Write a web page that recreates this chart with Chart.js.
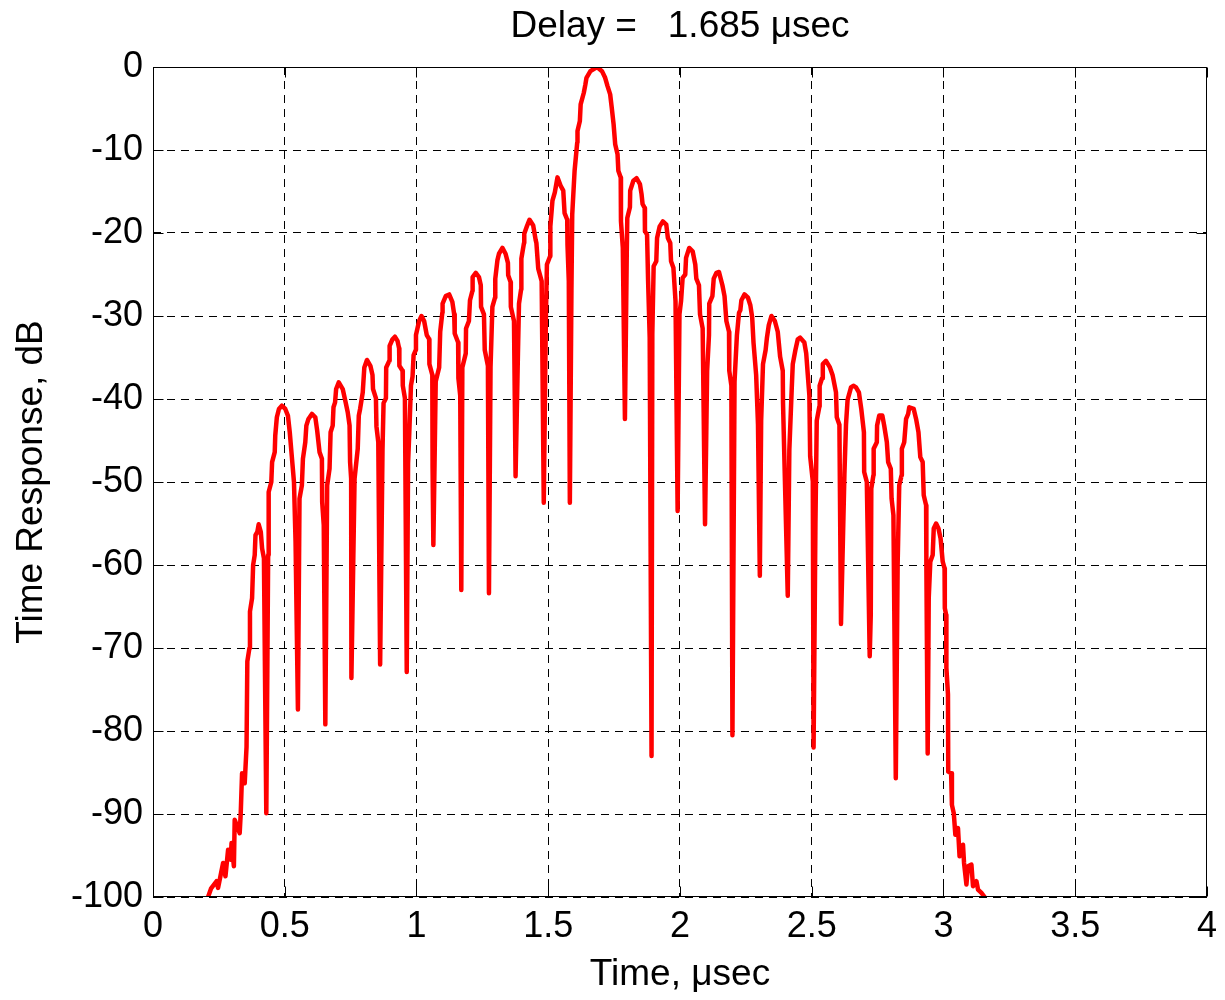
<!DOCTYPE html>
<html>
<head>
<meta charset="utf-8">
<title>Time Response</title>
<script src="https://cdn.jsdelivr.net/npm/chart.js@4.4.1/dist/chart.umd.min.js"></script>
<style>
  html, body { margin: 0; padding: 0; background: #fff; }
  #wrap { width: 1225px; height: 1000px; }
</style>
</head>
<body>
<div id="wrap"><canvas id="chart" width="1225" height="1000"></canvas></div>
<script>
// Time samples (usec), one line per lobe
const timeUs = [
  0.209, 0.220, 0.241, 0.247, 0.266, 0.275, 0.285, 0.295, 0.298, 0.307, 0.310, 0.329, 0.333, 0.338, 0.348, 0.355, 0.358, 0.366, 0.368, 0.376, 0.380, 0.386, 0.389, 0.396, 0.401, 0.409, 0.414, 0.421, 0.430,
  0.437, 0.439, 0.449, 0.452, 0.462, 0.464, 0.470, 0.478, 0.489, 0.502, 0.512, 0.519, 0.527, 0.535, 0.541, 0.550,
  0.556, 0.565, 0.569, 0.578, 0.582, 0.590, 0.603, 0.616, 0.623, 0.632, 0.641, 0.642, 0.648, 0.654,
  0.661, 0.670, 0.674, 0.682, 0.685, 0.691, 0.695, 0.705, 0.720, 0.731, 0.739, 0.746, 0.748, 0.752, 0.753,
  0.765, 0.777, 0.781, 0.786, 0.796, 0.802, 0.812, 0.825, 0.833, 0.835, 0.846, 0.848, 0.855, 0.862,
  0.871, 0.875, 0.884, 0.885, 0.897, 0.898, 0.909, 0.918, 0.928, 0.934, 0.935, 0.947, 0.948, 0.956, 0.963,
  0.968, 0.972, 0.979, 0.985, 0.989, 0.997, 0.998, 1.010, 1.019, 1.029, 1.039, 1.048, 1.049, 1.060, 1.061, 1.064,
  1.073, 1.086, 1.090, 1.098, 1.099, 1.111, 1.124, 1.136, 1.143, 1.145, 1.158, 1.159, 1.166, 1.170,
  1.174, 1.187, 1.188, 1.199, 1.203, 1.212, 1.213, 1.225, 1.237, 1.244, 1.245, 1.256, 1.259, 1.271, 1.275,
  1.281, 1.288, 1.298, 1.299, 1.307, 1.313, 1.326, 1.338, 1.347, 1.348, 1.357, 1.358, 1.370, 1.376,
  1.385, 1.389, 1.397, 1.398, 1.408, 1.409, 1.420, 1.429, 1.443, 1.452, 1.455, 1.462, 1.475, 1.483,
  1.491, 1.495, 1.507, 1.508, 1.516, 1.525, 1.535, 1.547, 1.557, 1.562, 1.572, 1.573, 1.578, 1.582,
  1.588, 1.591, 1.600, 1.610, 1.611, 1.620, 1.623, 1.635, 1.641, 1.645, 1.660, 1.685, 1.704, 1.716, 1.725, 1.735, 1.741, 1.748, 1.754, 1.763, 1.766, 1.775, 1.776, 1.783, 1.791,
  1.798, 1.800, 1.810, 1.811, 1.823, 1.835, 1.848, 1.854, 1.858, 1.866, 1.867, 1.875, 1.879, 1.885, 1.892,
  1.895, 1.900, 1.910, 1.913, 1.923, 1.935, 1.948, 1.954, 1.963, 1.966, 1.975, 1.983, 1.991,
  1.998, 2.004, 2.010, 2.020, 2.023, 2.035, 2.048, 2.058, 2.062, 2.072, 2.076, 2.086, 2.095,
  2.103, 2.110, 2.111, 2.123, 2.128, 2.138, 2.148, 2.161, 2.169, 2.176, 2.186, 2.187, 2.195, 2.199,
  2.207, 2.216, 2.224, 2.229, 2.233, 2.245, 2.258, 2.267, 2.274, 2.279, 2.289, 2.296, 2.303,
  2.308, 2.315, 2.325, 2.330, 2.337, 2.347, 2.360, 2.371, 2.380, 2.390, 2.391, 2.409,
  2.415, 2.424, 2.428, 2.438, 2.447, 2.456, 2.472, 2.479, 2.485, 2.491, 2.494, 2.504, 2.507,
  2.514, 2.519, 2.529, 2.530, 2.539, 2.542, 2.554, 2.569, 2.579, 2.592, 2.595, 2.605, 2.611,
  2.624, 2.630, 2.636, 2.649, 2.658, 2.668, 2.679, 2.688, 2.698, 2.699, 2.709, 2.720,
  2.724, 2.726, 2.734, 2.735, 2.747, 2.748, 2.756, 2.768, 2.775, 2.785, 2.790, 2.800, 2.803, 2.810, 2.819,
  2.826, 2.832, 2.841, 2.842, 2.851, 2.858, 2.866, 2.870, 2.887, 2.896, 2.905, 2.912, 2.921, 2.925, 2.934, 2.935, 2.940,
  2.944, 2.950, 2.959, 2.963, 2.972, 2.981, 2.989, 2.997, 3.004, 3.005, 3.010, 3.011, 3.017, 3.018, 3.029, 3.032, 3.039, 3.045, 3.055, 3.061, 3.074, 3.078, 3.087, 3.093, 3.106, 3.112, 3.125, 3.131, 3.144, 3.156
];

// Response (dB), same layout as timeUs
const responseDb = [
  -100, -99.0, -98.1, -98.9, -95.9, -97.5, -94.3, -95.5, -93.5, -96.3, -90.7, -92.3, -89.9, -85.1, -86.3, -81.9, -71.6, -70.0, -65.6, -64.0, -60.0, -58.8, -56.4, -56.0, -55.1, -56.0, -58.0, -59.2, -89.9,
  -58.8, -51.2, -50.0, -47.6, -46.4, -44.4, -42.2, -41.2, -40.8, -41.2, -42.0, -44.0, -47.0, -50.0, -57.2, -77.4,
  -52.0, -50.4, -47.2, -45.2, -43.2, -42.4, -41.8, -42.2, -43.8, -46.4, -47.2, -52.4, -55.2, -79.2,
  -50.4, -48.4, -44.0, -43.2, -41.0, -40.4, -38.8, -38.0, -38.8, -40.4, -41.6, -43.2, -47.6, -49.6, -73.6,
  -49.6, -46.0, -42.0, -41.2, -39.2, -36.2, -35.3, -36.0, -37.1, -38.8, -39.9, -43.3, -45.2, -72.0,
  -46.1, -40.5, -39.9, -36.2, -35.4, -33.6, -32.8, -32.5, -33.0, -33.9, -36.0, -36.6, -38.4, -39.9, -72.9,
  -47.8, -44.6, -38.4, -37.3, -34.7, -34.1, -32.3, -30.6, -30.0, -30.6, -32.3, -32.8, -35.8, -37.1, -48.2, -57.6,
  -37.9, -36.2, -31.9, -29.6, -28.5, -27.6, -27.4, -28.3, -29.8, -32.1, -33.2, -37.5, -39.6, -63.0,
  -36.2, -34.5, -31.5, -30.6, -28.1, -27.0, -25.3, -24.8, -25.3, -26.3, -28.9, -29.8, -34.1, -36.0, -63.4,
  -36.2, -28.9, -27.8, -25.5, -23.3, -22.5, -21.8, -22.5, -23.6, -25.1, -25.9, -28.9, -30.6, -49.3,
  -34.5, -28.5, -26.8, -23.1, -21.2, -20.1, -19.1, -18.4, -19.1, -20.8, -21.2, -24.3, -25.8, -52.5,
  -30.2, -23.8, -22.8, -19.2, -16.1, -15.1, -13.3, -14.3, -14.9, -17.6, -18.4, -21.4, -25.8, -52.5,
  -27.0, -17.8, -12.5, -9.1, -7.7, -6.5, -4.5, -3.1, -2.1, -1.3, -0.5, 0, -0.5, -1.3, -2.3, -3.3, -4.9, -6.9, -9.3, -10.5, -12.5, -13.3, -18.6, -21.8, -42.4,
  -22.4, -18.2, -16.9, -14.9, -13.7, -13.4, -14.1, -15.3, -16.5, -17.0, -19.8, -20.2, -25.8, -32.6, -83.0,
  -32.2, -24.0, -23.4, -20.6, -19.2, -18.6, -19.0, -20.6, -21.2, -23.4, -24.2, -28.2, -53.5,
  -29.8, -28.2, -25.4, -25.0, -23.0, -21.8, -22.2, -23.8, -25.5, -26.3, -29.8, -31.5, -55.1,
  -36.6, -32.3, -28.5, -27.6, -25.5, -24.8, -24.7, -26.3, -27.6, -30.6, -31.9, -36.6, -38.4, -80.5,
  -37.9, -32.3, -29.6, -29.3, -28.1, -27.4, -27.8, -28.7, -30.2, -33.2, -37.1, -43.1, -61.3,
  -42.6, -35.8, -34.1, -32.6, -31.1, -30.0, -30.6, -31.9, -34.9, -36.6, -40.5, -63.7,
  -46.1, -38.8, -35.8, -34.1, -32.8, -32.6, -33.2, -34.5, -37.1, -39.6, -46.9, -49.9, -82.0,
  -55.1, -42.6, -40.9, -38.4, -37.5, -35.8, -35.4, -36.2, -37.1, -39.2, -42.2, -43.1, -67.1,
  -49.1, -43.1, -40.1, -38.6, -38.4, -38.6, -39.2, -41.2, -44.0, -48.8, -50.0, -71.0,
  -66.0, -50.8, -49.2, -46.0, -45.2, -43.2, -42.0, -42.0, -43.2, -45.2, -47.6, -48.4, -52.0, -54.0, -85.7,
  -60.0, -50.4, -49.2, -46.0, -45.2, -42.4, -41.8, -41.0, -41.2, -42.4, -44.0, -47.0, -47.6, -51.6, -52.8, -60.0, -82.7,
  -64.0, -59.6, -58.8, -55.6, -55.0, -55.6, -56.8, -59.6, -60.4, -65.2, -66.0, -72.4, -75.6, -84.9, -85.1, -88.9, -89.9, -92.5, -91.7, -95.1, -93.7, -95.9, -98.5, -96.3, -96.1, -98.7, -98.1, -99.1, -99.5, -100
];

const xTickValues = [0, 0.5, 1, 1.5, 2, 2.5, 3, 3.5, 4];
const yTickValues = [-100, -90, -80, -70, -60, -50, -40, -30, -20, -10, 0];

const titleText = 'Delay =   1.685 \u03bcsec';
const xTitle = 'Time, \u03bcsec';
const yTitle = 'Time Response, dB';

const fontFamily = "'Liberation Sans', Arial, Helvetica, sans-serif";

const points = timeUs.map((t, i) => ({ x: t, y: responseDb[i] }));

// MATLAB style frame: solid box with short inward ticks on all four sides
const frameBox = {
    id: 'frameBox',
    afterDraw(chart) {
        const { ctx, chartArea: a, scales } = chart;
        const left = Math.round(a.left) + 0.5;
        const right = Math.round(a.right) - 0.5;
        const top = Math.round(a.top) + 0.5;
        const bottom = Math.round(a.bottom) - 0.5;
        const len = 10;
        ctx.save();
        ctx.setLineDash([]);
        ctx.strokeStyle = '#000';
        ctx.lineWidth = 1;
        ctx.beginPath();
        xTickValues.forEach(v => {
            const x = Math.round(scales.x.getPixelForValue(v)) + 0.5;
            ctx.moveTo(x, bottom); ctx.lineTo(x, bottom - len);
            ctx.moveTo(x, top); ctx.lineTo(x, top + len);
        });
        yTickValues.forEach(v => {
            const y = Math.round(scales.y.getPixelForValue(v)) + 0.5;
            ctx.moveTo(left, y); ctx.lineTo(left + len, y);
            ctx.moveTo(right, y); ctx.lineTo(right - len, y);
        });
        ctx.stroke();
        ctx.strokeRect(left, top, right - left, bottom - top);
        ctx.restore();
    }
};

new Chart(document.getElementById('chart'), {
    type: 'line',
    data: {
        datasets: [{
            data: points,
            borderColor: '#ff0000',
            borderWidth: 4.5,
            pointRadius: 0,
            tension: 0,
            fill: false,
            borderJoinStyle: 'round',
            borderCapStyle: 'round'
        }]
    },
    options: {
        responsive: false,
        animation: false,
        devicePixelRatio: 1,
        layout: { padding: { left: 0, right: 15, top: 0, bottom: 0 } },
        plugins: {
            legend: { display: false },
            tooltip: { enabled: false },
            title: {
                display: true,
                fullSize: false,
                text: titleText,
                color: '#000',
                font: { family: fontFamily, size: 37, weight: 'normal' },
                padding: { top: 5, bottom: 17.6 }
            }
        },
        scales: {
            x: {
                type: 'linear',
                min: 0,
                max: 4,
                afterBuildTicks: s => { s.ticks = xTickValues.map(v => ({ value: v })); },
                afterFit: s => { s.height = 103; },
                ticks: {
                    color: '#000',
                    font: { family: fontFamily, size: 36 },
                    padding: 8,
                    maxRotation: 0,
                    autoSkip: false,
                    callback: v => String(v)
                },
                grid: { color: '#000', lineWidth: 1, drawTicks: false },
                border: { display: false, dash: [8, 6] },
                title: {
                    display: true,
                    text: xTitle,
                    color: '#000',
                    font: { family: fontFamily, size: 37 },
                    padding: { top: 3, bottom: 3 }
                }
            },
            y: {
                type: 'linear',
                min: -100,
                max: 0,
                afterBuildTicks: s => { s.ticks = yTickValues.map(v => ({ value: v })); },
                afterFit: s => { s.width = 153; },
                ticks: {
                    color: '#000',
                    font: { family: fontFamily, size: 36 },
                    padding: 10,
                    autoSkip: false,
                    callback: v => String(v)
                },
                grid: { color: '#000', lineWidth: 1, drawTicks: false },
                border: { display: false, dash: [8, 6] },
                title: {
                    display: true,
                    text: yTitle,
                    color: '#000',
                    font: { family: fontFamily, size: 37 },
                    padding: { top: 10, bottom: 3 }
                }
            }
        }
    },
    plugins: [frameBox]
});
</script>
</body>
</html>
